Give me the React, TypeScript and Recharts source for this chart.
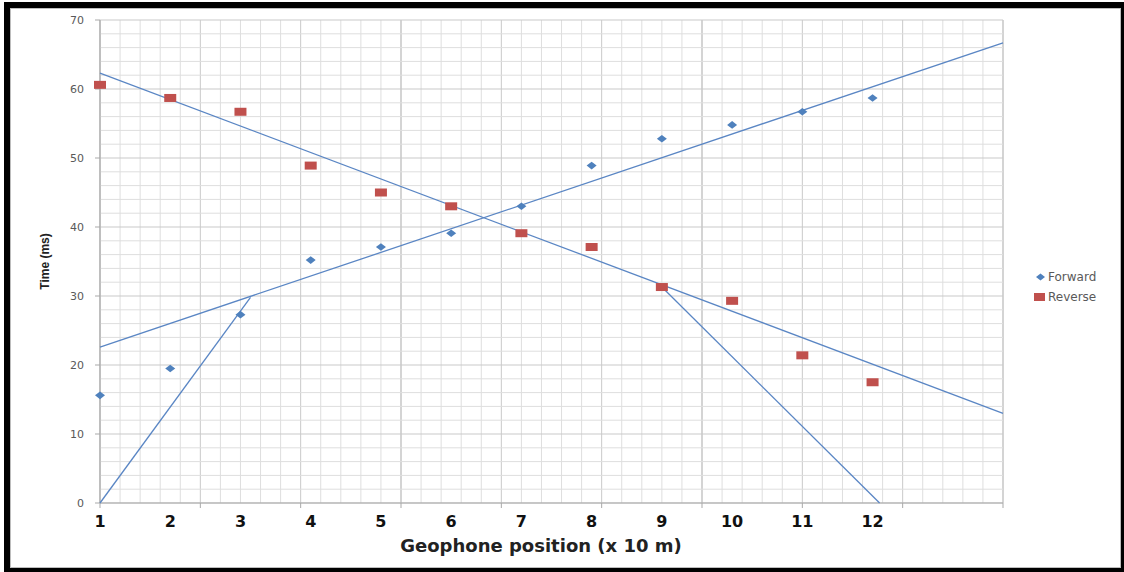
import React from 'react';
import { ScatterChart, Scatter, XAxis, YAxis, ReferenceLine, Legend, Label } from 'recharts';

// ---- data ----
const geophoneNumbers = [1, 2, 3, 4, 5, 6, 7, 8, 9, 10, 11, 12];
const geophoneOffsets = [0, 7, 14, 21, 28, 35, 42, 49, 56, 63, 70, 77];
const forwardTimes = [15.6, 19.5, 27.3, 35.2, 37.1, 39.1, 43.0, 48.9, 52.8, 54.8, 56.7, 58.7];
const reverseTimes = [60.6, 58.7, 56.7, 48.9, 45.0, 43.0, 39.1, 37.1, 31.3, 29.3, 21.4, 17.5];
const yTicks = [0, 10, 20, 30, 40, 50, 60, 70];
const xMajorTicks = [0, 10, 20, 30, 40, 50, 60, 70, 80, 90];
const xDarkGrid = [0, 30, 60, 90];

// hand-drawn interpretation lines (endpoints)
const forwardFitLine = [{ x: 0, y: 22.6 }, { x: 90, y: 66.7 }];
const reverseFitLine = [{ x: 0, y: 62.3 }, { x: 90, y: 13.0 }];
const forwardDirectLine = [{ x: 0, y: 0 }, { x: 15, y: 29.8 }];
const reverseDirectLine = [{ x: 56, y: 31.3 }, { x: 77.7, y: 0 }];

const forwardData = geophoneOffsets.map((x, i) => ({ x, y: forwardTimes[i] }));
const reverseData = geophoneOffsets.map((x, i) => ({ x, y: reverseTimes[i] }));

const BLUE = '#4F81BD';
const RED = '#C0504D';
const LINE = '#5a86c4';
const GRID_MINOR = '#dedede';
const GRID_MID = '#c9c9c9';
const GRID_DARK = '#a9a9a9';

const LEGEND_W = 90;
const MAIN = 'a_main';
const GEO = 'b_geo';

const minorX: number[] = [];
for (let v = 0; v <= 90; v += 2) minorX.push(v);
const minorY: number[] = [];
for (let v = 0; v <= 70; v += 2) minorY.push(v);

const Diamond = (props: any) => {
  const { cx, cy } = props;
  if (cx == null || cy == null) return <g />;
  return <polygon points={`${cx - 5},${cy} ${cx},${cy - 3.8} ${cx + 5},${cy} ${cx},${cy + 3.8}`} fill={BLUE} />;
};
const Square = (props: any) => {
  const { cx, cy } = props;
  if (cx == null || cy == null) return <g />;
  return <rect x={cx - 6} y={cy - 4} width={12} height={8} fill={RED} />;
};
const NoShape = () => <g />;

const renderLegend = (props: any) => {
  const payload = (props.payload || []).filter((p: any) => p.type !== 'none' && p.value);
  return (
    <div style={{ fontFamily: 'DejaVu Sans, sans-serif', fontSize: 12, color: '#595959', width: LEGEND_W }}>
      {payload.map((p: any) => (
        <div key={p.value} style={{ display: 'flex', alignItems: 'center', height: 20 }}>
          <svg width={13} height={10} style={{ marginRight: 2 }}>
            {p.type === 'diamond' ? (
              <polygon points="3,5 7.5,1.5 12,5 7.5,8.5" fill={p.color} />
            ) : (
              <rect x={1} y={1} width={11} height={8} fill={p.color} />
            )}
          </svg>
          <span>{p.value}</span>
        </div>
      ))}
    </div>
  );
};

const YTitle = (props: any) => {
  const vb = props.viewBox || {};
  const cy = (vb.y || 0) + (vb.height || 0) / 2;
  const cx = 45;
  return (
    <text
      x={cx}
      y={cy}
      transform={`rotate(-90 ${cx} ${cy})`}
      textAnchor="middle"
      dominantBaseline="central"
      style={{ fontFamily: 'Liberation Sans, Arial, sans-serif', fontSize: 12, fontWeight: 'bold', fill: '#222' }}
    >
      Time (ms)
    </text>
  );
};

const XTitle = (props: any) => {
  const vb = props.viewBox || {};
  const cx = 541;
  const y = (vb.y || 0) + (vb.height || 0) - 8;
  return (
    <text
      x={cx}
      y={y}
      textAnchor="middle"
      style={{ fontFamily: 'DejaVu Sans, sans-serif', fontSize: 18, fontWeight: 'bold', fill: '#222' }}
    >
      Geophone position (x 10 m)
    </text>
  );
};

export default function App() {
  return (
    <div style={{ position: 'absolute', left: 0, top: 0, width: 1124, height: 572, background: '#fff', overflow: 'hidden' }}>
      <div
        style={{
          position: 'absolute',
          left: 4,
          top: 2,
          width: 1120,
          height: 570,
          boxSizing: 'border-box',
          borderStyle: 'solid',
          borderColor: '#000',
          borderWidth: '6px 3px 4px 6px',
        }}
      >
        <div style={{ position: 'absolute', inset: 0, border: '1px solid #bdbdbd' }} />
      </div>
      <div style={{ position: 'absolute', left: 0, top: 0 }}>
        <ScatterChart
          width={1124}
          height={572}
          margin={{ top: 20, right: 121 - LEGEND_W, left: 0, bottom: 12 }}
          style={{ fontFamily: 'DejaVu Sans, sans-serif' }}
        >
          <XAxis
            xAxisId={MAIN}
            type="number"
            dataKey="x"
            domain={[0, 90]}
            ticks={xMajorTicks}
            tickFormatter={() => ''}
            tickSize={5}
            height={6}
            axisLine={{ stroke: GRID_DARK }}
            tickLine={{ stroke: GRID_DARK }}
          />
          <XAxis
            xAxisId={GEO}
            type="number"
            dataKey="x"
            domain={[0, 90]}
            ticks={geophoneOffsets}
            interval={0}
            tickFormatter={(v: number) => String(geophoneNumbers[geophoneOffsets.indexOf(v)])}
            axisLine={false}
            tickLine={false}
            tickSize={0}
            tickMargin={7}
            height={51}
            tick={{ fontSize: 16, fontWeight: 'bold', fill: '#111' }}
            allowDataOverflow
          >
            <Label content={XTitle} />
          </XAxis>
          <YAxis
            type="number"
            dataKey="y"
            domain={[0, 70]}
            ticks={yTicks}
            width={100}
            tickSize={5}
            tickMargin={11}
            axisLine={{ stroke: GRID_DARK }}
            tickLine={{ stroke: GRID_DARK }}
            tick={{ fontSize: 11, fill: '#595959' }}
          >
            <Label content={YTitle} />
          </YAxis>

          {minorX.map((v) => (
            <ReferenceLine
              key={`vx${v}`}
              xAxisId={MAIN}
              x={v}
              stroke={xDarkGrid.includes(v) ? GRID_DARK : v % 10 === 0 ? GRID_MID : GRID_MINOR}
              strokeWidth={1}
            />
          ))}
          {minorY.map((v) => (
            <ReferenceLine
              key={`hy${v}`}
              xAxisId={MAIN}
              y={v}
              stroke={v % 10 === 0 ? GRID_MID : GRID_MINOR}
              strokeWidth={1}
            />
          ))}

          <Scatter xAxisId={MAIN} data={forwardFitLine} line={{ stroke: LINE, strokeWidth: 1.3 }} shape={NoShape} legendType="none" isAnimationActive={false} />
          <Scatter xAxisId={MAIN} data={reverseFitLine} line={{ stroke: LINE, strokeWidth: 1.3 }} shape={NoShape} legendType="none" isAnimationActive={false} />
          <Scatter xAxisId={MAIN} data={forwardDirectLine} line={{ stroke: LINE, strokeWidth: 1.3 }} shape={NoShape} legendType="none" isAnimationActive={false} />
          <Scatter xAxisId={MAIN} data={reverseDirectLine} line={{ stroke: LINE, strokeWidth: 1.3 }} shape={NoShape} legendType="none" isAnimationActive={false} />

          <Scatter xAxisId={MAIN} name="Forward" data={forwardData} fill={BLUE} shape={Diamond} legendType="diamond" isAnimationActive={false} />
          <Scatter xAxisId={MAIN} name="Reverse" data={reverseData} fill={RED} shape={Square} legendType="square" isAnimationActive={false} />

          <Legend
            layout="vertical"
            align="right"
            verticalAlign="top"
            content={renderLegend}
            wrapperStyle={{ top: 267, left: 1033, right: 'auto', width: LEGEND_W }}
          />
        </ScatterChart>
      </div>
    </div>
  );
}
